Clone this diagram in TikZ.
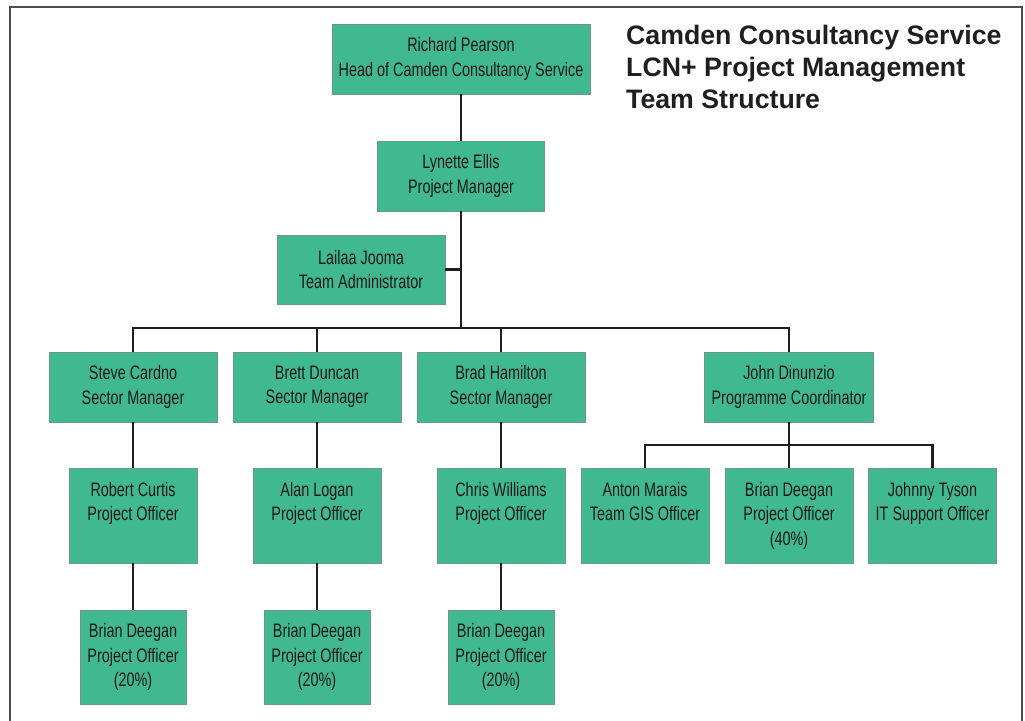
\documentclass[tikz,border=0pt]{standalone}
\usepackage{fontspec}
\setmainfont{Liberation Sans}
\newfontfamily\narrowfont[FakeStretch=0.74]{Liberation Sans}
\usetikzlibrary{positioning}
\definecolor{boxgreen}{RGB}{64,184,144}
\definecolor{boxedge}{RGB}{112,150,136}
\definecolor{wireblack}{RGB}{30,30,30}
\newcommand{\blankline}{\vphantom{(40\%)}}

\begin{document}
\begin{tikzpicture}[
    x=1pt, y=-1pt,
    box/.style={draw=boxedge, line width=0.8pt, fill=boxgreen, inner sep=0pt,
        align=center, text=black!90,
        font=\narrowfont\fontsize{19.5}{24.5}\selectfont},
    sector/.style={box, minimum width=168pt, minimum height=70pt},
    officer/.style={box, minimum width=128pt, minimum height=95pt},
    share/.style={box, minimum width=106pt, minimum height=94pt},
    wire/.style={wireblack, line width=2.2pt},
    frame/.style={black!70, line width=1.8pt},
    title/.style={font=\bfseries\fontsize{26.7}{32}\selectfont, align=left,
        text=black!88, inner sep=0pt, anchor=north west}
]
\useasboundingbox (0,0) rectangle (1025,720);

% Rahmen
\draw[frame] (10,730) -- (10,7) -- (1022,7) -- (1022,730);

% Titel
\node[title] (title) at (626,25) {Camden Consultancy Service\\LCN+ Project Management\\Team Structure};

% Leitung
\node[box, minimum width=258pt, minimum height=70pt] (richard) at (461,59)
    {Richard Pearson\\Head of Camden Consultancy Service};
\node[box, minimum width=167pt, minimum height=70pt] (lynette) at (461,176)
    {Lynette Ellis\\Project Manager};
\node[box, minimum width=168pt, minimum height=69pt] (lailaa) at (361,269.5)
    {Lailaa Jooma\\Team Administrator};

% Sektoren
\node[sector] (steve) at (133,387) {Steve Cardno\\Sector Manager};
\node[sector] (brett) at (317,387) {Brett Duncan\\Sector Manager};
\node[sector] (brad) at (501,387) {Brad Hamilton\\Sector Manager};
\node[sector, minimum width=169pt] (john) at (789,387) {John Dinunzio\\Programme Coordinator};

% Projektmitarbeiter
\node[officer] (robert) at (133,515.5) {Robert Curtis\\Project Officer\\\blankline};
\node[officer] (alan) at (317,515.5) {Alan Logan\\Project Officer\\\blankline};
\node[officer] (chris) at (501,515.5) {Chris Williams\\Project Officer\\\blankline};
\node[officer] (anton) at (645,515.5) {Anton Marais\\Team GIS Officer\\\blankline};
\node[officer] (brianpc) at (789,515.5) {Brian Deegan\\Project Officer\\(40\%)};
\node[officer] (johnny) at (932.5,515.5) {Johnny Tyson\\IT Support Officer\\\blankline};

% Anteile
\node[share] (briana) at (133,657) {Brian Deegan\\Project Officer\\(20\%)};
\node[share] (brianb) at (317,657) {Brian Deegan\\Project Officer\\(20\%)};
\node[share] (brianc) at (501,657) {Brian Deegan\\Project Officer\\(20\%)};

% Verbindungen
\coordinate (bus) at (461,328);
\coordinate (jbus) at (789,445);
\draw[wire] (lynette.south) -- (bus);
\draw[wire] (lailaa.east) -- (lailaa.east -| lynette.south);
\foreach \s in {steve,brett,brad,john}
    \draw[wire] (\s.north) |- (bus);
\foreach \a/\b in {richard/lynette, steve/robert, robert/briana, brett/alan,
                   alan/brianb, brad/chris, chris/brianc, john/brianpc}
    \draw[wire] (\a.south) -- (\b.north);
\foreach \s in {anton,johnny}
    \draw[wire] (\s.north) |- (jbus);

\end{tikzpicture}
\end{document}
